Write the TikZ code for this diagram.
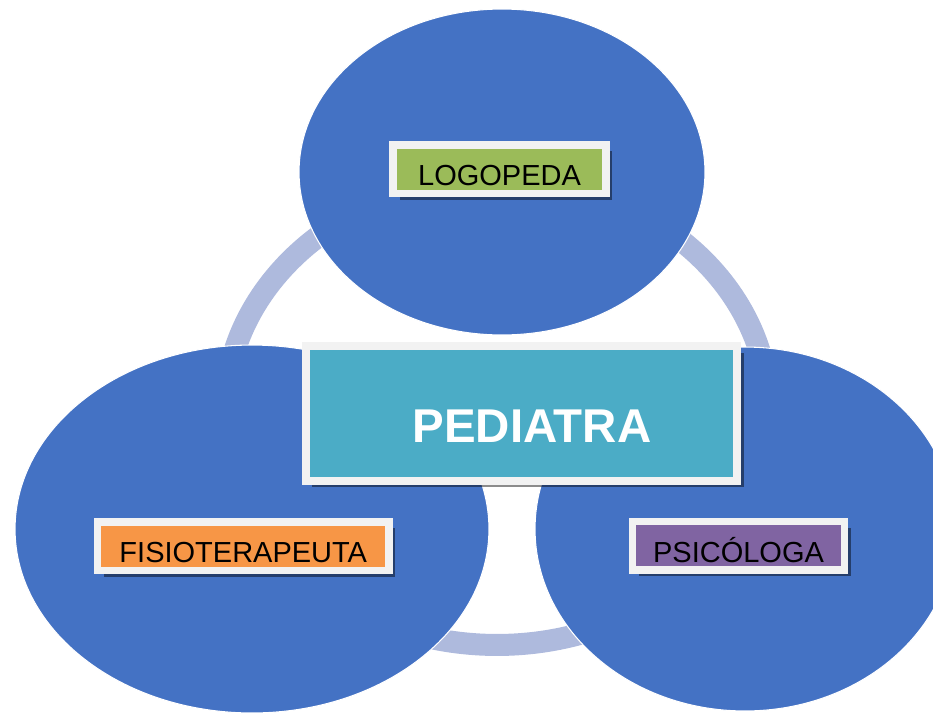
\documentclass[tikz,border=0pt]{standalone}
\usepackage{fontspec}
\setmainfont{Liberation Sans}
\usetikzlibrary{shapes.geometric,shadows}

\definecolor{bubbleblue}{HTML}{4472C4}
\definecolor{ringblue}{HTML}{AEBADD}
\definecolor{framegray}{HTML}{F2F2F2}
\definecolor{logogreen}{HTML}{9BBB59}
\definecolor{fisioorange}{HTML}{F79646}
\definecolor{psicopurple}{HTML}{8064A2}
\definecolor{pediateal}{HTML}{4BACC6}

\begin{document}
\begin{tikzpicture}[x=0.02cm, y=-0.02cm,
		bubble/.style={ellipse, fill=bubbleblue, draw=white, line width=0.6pt, inner sep=0pt},
		tagbox/.style={draw=framegray, line width=0.15cm, minimum height=0.97cm, inner sep=0pt,
			text height=19.2pt, text depth=0pt, font=\fontsize{16.5}{18}\selectfont,
			drop shadow={shadow xshift=0.13cm, shadow yshift=-0.13cm, opacity=0.45, fill=black}}
	]
	\useasboundingbox (0,0) rectangle (933,714);

	% ring behind the bubbles
	\draw[ringblue, line width=0.44cm] (497,412) ellipse [x radius=5.44cm, y radius=4.66cm];

	\node[bubble, minimum width=8.12cm, minimum height=6.52cm] (top) at (502,172) {};
	\node[bubble, minimum width=9.48cm, minimum height=7.36cm] (left) at (252,529) {};
	\node[bubble, minimum width=8.40cm, minimum height=7.28cm] (right) at (745,529) {};

	\node[tagbox, fill=logogreen, minimum width=4.26cm] (logo) at (499.5,169) {LOGOPEDA};
	\node[tagbox, fill=fisioorange, minimum width=5.83cm] (fisio) at (243.25,546) {FISIOTERAPEUTA};
	\node[tagbox, fill=psicopurple, minimum width=4.24cm] (psico) at (738.5,545.5) {PSICÓLOGA};

	% central box
	\node[tagbox, fill=pediateal, line width=0.16cm, minimum width=8.64cm, minimum height=2.7cm] (pedbox) at (521.5,413.5) {};
	\node[inner sep=0pt, text=white, font=\fontsize{27}{30}\selectfont\bfseries] (pedtext) at (532,426) {PEDIATRA};
\end{tikzpicture}
\end{document}
